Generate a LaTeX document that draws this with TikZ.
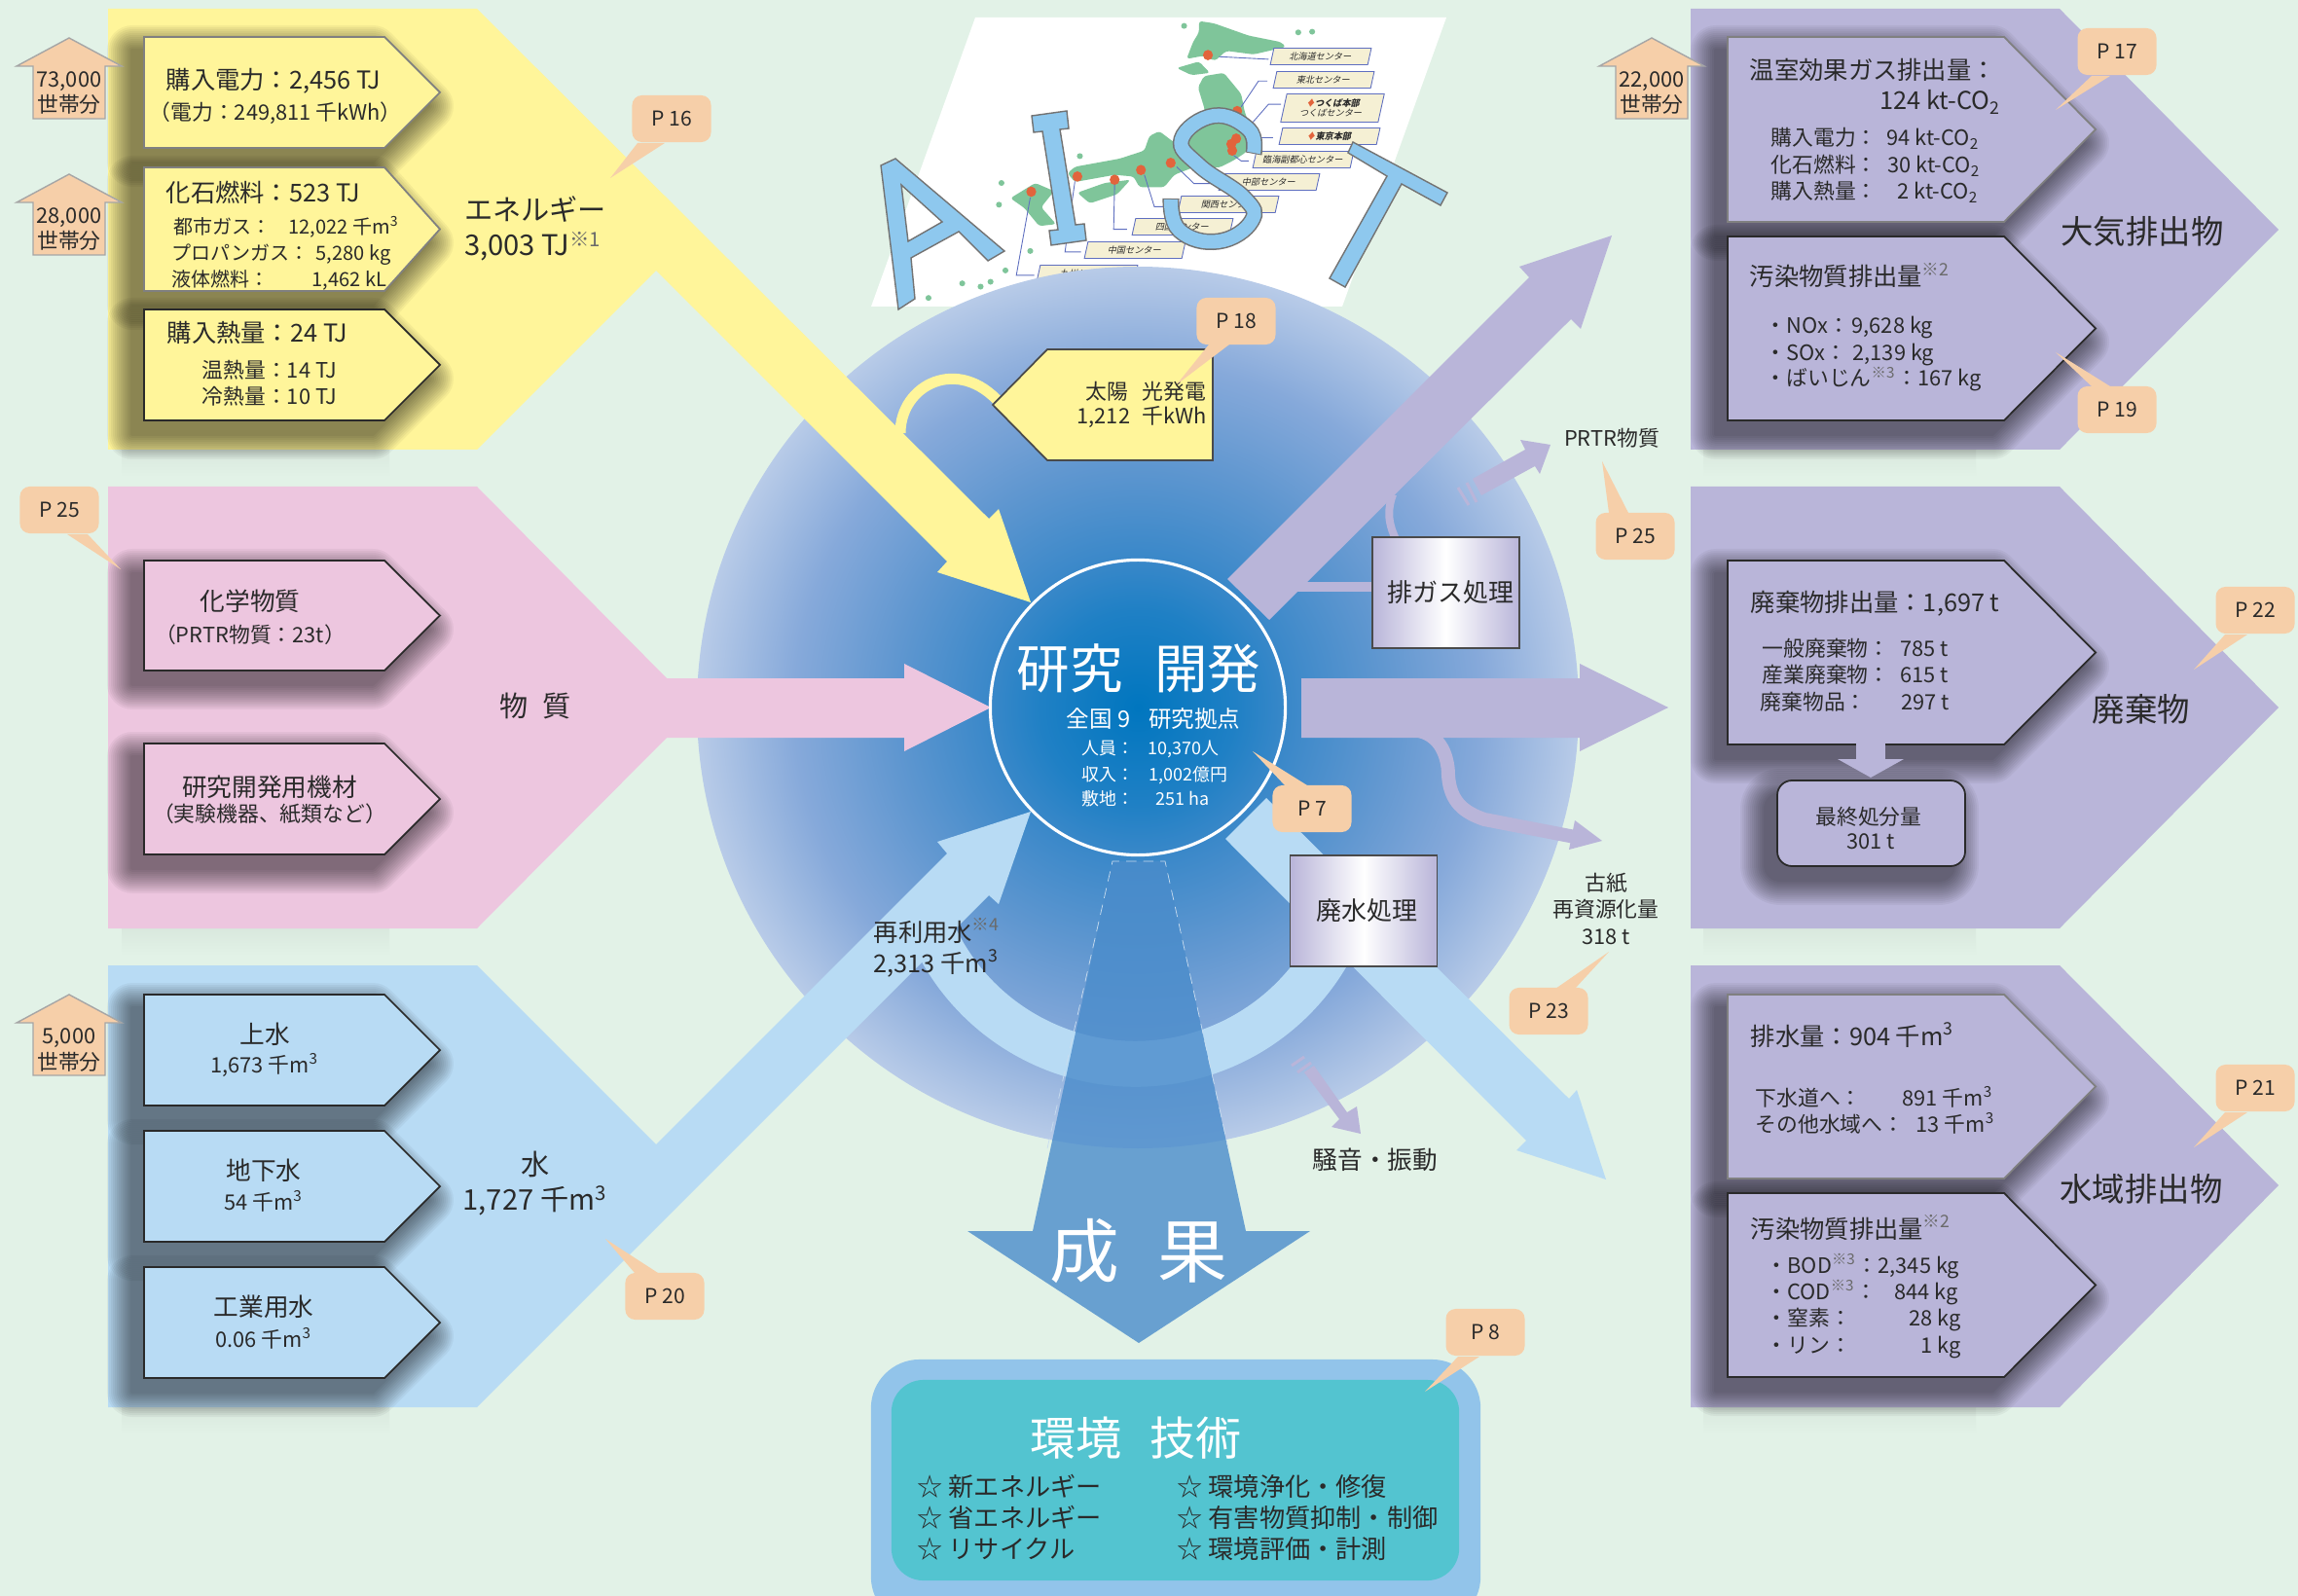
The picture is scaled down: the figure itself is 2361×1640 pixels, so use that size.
\documentclass[tikz,border=0pt]{standalone}
\usepackage{fontspec}
\setmainfont{Noto Sans CJK JP}

\definecolor{bgc}{HTML}{E2F2E7}
\definecolor{inkc}{HTML}{2A2A2A}
\definecolor{yellowc}{HTML}{FFF59A}
\definecolor{pinkc}{HTML}{EDC6DF}
\definecolor{waterc}{HTML}{B8DBF4}
\definecolor{airc}{HTML}{B9B5D9}
\definecolor{tagc}{HTML}{F6CFA9}
\definecolor{lettc}{HTML}{8EC8EE}
\definecolor{fruitc}{HTML}{4A8CCB}
\definecolor{tealc}{HTML}{53C4D0}
\definecolor{rimc}{HTML}{92C4EA}
\definecolor{landc}{HTML}{7FC59A}
\definecolor{leadc}{HTML}{5F6FC0}
\definecolor{dotc}{HTML}{E2643C}
\definecolor{labelc}{HTML}{F5F0D4}
\definecolor{hubA}{HTML}{0076BF}
\definecolor{hubB}{HTML}{1F80C5}
\definecolor{hubC}{HTML}{3A88C9}
\definecolor{hubD}{HTML}{6097D0}
\definecolor{hubE}{HTML}{86A9DA}
\definecolor{hubF}{HTML}{B8CBE8}

\pgfdeclareradialshading{hubshade}{\pgfpointorigin}{
	color(0bp)=(hubA);
	color(5.5bp)=(hubB);
	color(8.5bp)=(hubC);
	color(14bp)=(hubD);
	color(19.5bp)=(hubE);
	color(25bp)=(hubF);
	color(50bp)=(hubF)}

\newcommand{\mthree}{\textsuperscript{3}}
\newcommand{\cotwo}{CO\textsubscript{2}}
\newcommand{\fnote}[1]{\textsuperscript{\color{inkc!70}※#1}}
% a five sided label: left, shoulder, tip, top, bottom
\newcommand{\tagshape}[5]{(#1,#4) -- (#2,#4) -- (#3,{(#4+#5)/2}) -- (#2,#5) -- (#1,#5) -- cycle}
% soft dark patch behind a label
\newcommand{\softshadow}[1]{%
	\begin{scope}[shift={(-12,14)}]
		\foreach \w in {4,8,...,52} {
			\begin{scope}[transparency group, opacity=0.045]
				\filldraw[black, line width=\w*0.01cm, line join=round] #1;
			\end{scope}
		}
	\end{scope}}

\begin{document}
\begin{tikzpicture}[
	x=0.01cm, y=-0.01cm,
	every node/.style={inner sep=0pt, text=inkc},
	undershade/.style={top color=bgc!96!black, bottom color=bgc},
	tagbox/.style={line width=0.5pt},
	house/.style={fill=tagc, draw=gray!70, line width=0.4pt},
	housetext/.style={font=\fontsize{6.2}{7.4}\selectfont, align=center},
	pagetag/.style={fill=tagc, rounded corners=0.1cm, minimum width=0.81cm, minimum height=0.48cm, font=\fontsize{6}{7}\selectfont},
	head/.style={font=\fontsize{7.2}{8}\selectfont, anchor=base west},
	sub/.style={font=\fontsize{6.2}{7}\selectfont, anchor=base west},
	fuel/.style={font=\fontsize{5.7}{7}\selectfont, anchor=base west},
	headc/.style={font=\fontsize{7.3}{8}\selectfont, anchor=base},
	subc/.style={font=\fontsize{6.2}{7}\selectfont, anchor=base},
	title/.style={font=\fontsize{8.3}{9}\selectfont, anchor=base},
	bigtitle/.style={font=\fontsize{9.5}{10}\selectfont, anchor=base},
	hubtext/.style={font=\fontsize{5.1}{6}\selectfont, anchor=base west, text=white},
	treatbox/.style={draw=inkc!85, line width=0.5pt, left color=airc, right color=airc, middle color=white,
		minimum width=1.51cm, minimum height=1.14cm, font=\fontsize{7.4}{8}\selectfont},
	maplabel/.style={draw=leadc, fill=labelc, line width=0.25pt, transform shape, xslant=0.22,
		minimum width=1cm, minimum height=0.17cm, font=\fontsize{2.6}{3}\selectfont},
	letter/.style={fill=lettc, draw=gray!90!black, line width=0.4pt},
	envlist/.style={font=\fontsize{7.45}{8}\selectfont, anchor=base west},
]
	\clip (0,0) rectangle (2361,1640);
	\fill[bgc] (0,0) rectangle (2361,1640);

	% map of the sites
	\fill[white] (1002,18) -- (1486,18) -- (1379,315) -- (895,315) -- cycle;
	\begin{scope}[shift={(880,0)}, x=0.0051cm, y=-0.00333cm]
		\fill[landc, rounded corners=0.03cm] (690,65) -- (720,72) -- (790,110) -- (855,130) -- (865,145) -- (800,168) -- (745,157) -- (722,188) -- (700,172) -- (665,182) -- (678,130) -- (690,100) -- cycle;
		\fill[landc, rounded corners=0.03cm] (645,210) -- (690,190) -- (712,225) -- (675,232) -- cycle;
		\fill[landc, rounded corners=0.03cm] (700,235) -- (740,225) -- (775,290) -- (782,345) -- (795,400) -- (785,470) -- (760,495) -- (730,518) -- (690,510) -- (640,540) -- (620,578) -- (570,578) -- (558,545) -- (520,540) -- (440,562) -- (425,535) -- (440,515) -- (530,490) -- (580,465) -- (590,420) -- (610,405) -- (640,440) -- (690,400) -- (702,340) -- (688,270) -- cycle;
		\fill[landc, rounded corners=0.03cm] (445,595) -- (500,565) -- (552,555) -- (525,600) -- (470,628) -- cycle;
		\fill[landc, rounded corners=0.03cm] (310,612) -- (360,565) -- (398,590) -- (372,640) -- (402,692) -- (368,698) -- (338,642) -- cycle;
		\foreach \lx/\ly in {890/100, 918/98, 660/80, 292/565, 450/482, 287/632, 350/775, 300/835, 270/870, 250/885, 213/875, 145/920}
			\fill[landc] (\lx,\ly) circle[x radius=6, y radius=9];
		\foreach \dx/\dy in {708/170, 767/343, 765/428, 755/445, 757/465, 633/503, 573/525, 520/555, 445/545, 352/592}
			\fill[dotc] (\dx,\dy) circle[x radius=10, y radius=16];
		\draw[leadc, line width=0.25pt] (730,175) -- (830,183);
		\draw[leadc, line width=0.25pt] (775,330) -- (810,250) -- (828,250);
		\draw[leadc, line width=0.25pt] (797,380) -- (830,322) -- (855,322);
		\draw[leadc, line width=0.25pt] (800,425) -- (840,425);
		\draw[leadc, line width=0.25pt] (760,480) -- (775,497) -- (790,497);
		\draw[leadc, line width=0.25pt] (645,515) -- (680,567) -- (730,567);
		\draw[leadc, line width=0.25pt] (580,540) -- (600,638) -- (650,638);
		\draw[leadc, line width=0.25pt] (520,570) -- (518,708) -- (545,708);
		\draw[leadc, line width=0.25pt] (440,560) -- (420,778) -- (452,778);
		\draw[leadc, line width=0.25pt] (350,610) -- (322,850) -- (358,850);
	\end{scope}
	\foreach \n/\x/\y/\txt in {hokkaido/1357/58/北海道センター, tohoku/1360/82/東北センター, nagoya/1304/187/中部センター, kansai/1262/210/関西センター, shikoku/1215/233/四国センター, chugoku/1166/257/中国センター, kyushu/1117/281/九州センター, rinkai/1339/164/臨海副都心センター}
		\node[maplabel] (\n) at (\x,\y) {\txt};
	\node[maplabel, minimum height=0.29cm, align=center] (tsukuba) at (1369,111) {{\color{dotc}♦}\textbf{つくば本部}\\つくばセンター};
	\node[maplabel] (tokyo) at (1366,140) {{\color{dotc}♦}\textbf{東京本部}};

	% large disc behind the flows
	\path[shading=hubshade] (1169,727) circle[radius=453];

	% letters over the map
	\path[letter, even odd rule] (920,163) -- (905,170) -- (923,318) -- (940,307) -- (936,265) -- (985,238) -- (1015,268) -- (1032,258) -- cycle
		(926,190) -- (968,228) -- (933,248) -- cycle;
	\path[letter] (1060,119) -- (1096,114) -- (1098,132) -- (1089,133) -- (1105,231) -- (1114,230) -- (1116,247) -- (1080,252) -- (1078,237) -- (1087,236) -- (1071,135) -- (1062,136) -- cycle;
	\path[letter] (1390,146) -- (1487,198) -- (1480,211) -- (1440,189) -- (1382,295) -- (1366,286) -- (1425,181) -- (1385,157) -- cycle;
	\draw[gray!90!black, line width=0.17cm] plot[smooth, tension=0.75] coordinates {(1288,158) (1283,133) (1247,119) (1214,143) (1232,170) (1278,203) (1286,227) (1252,248) (1212,237) (1203,204)};
	\draw[lettc, line width=0.14cm] plot[smooth, tension=0.75] coordinates {(1288,157) (1283,133) (1247,119) (1214,143) (1232,170) (1278,203) (1286,227) (1252,248) (1212,237) (1203,205)};

	% ring of reused water
	\draw[waterc, line width=0.47cm] (1364.5,979) arc[start angle=30, end angle=158, radius=228.5];

	% solar panel loop
	\draw[yellowc, line width=0.11cm] (925,445) .. controls (925,395) and (985,365) .. (1028,415);

	% faint shade under the flows
	\foreach \ax/\bx/\yb in {125/400/462, 125/400/954, 125/400/1446, 1750/2030/462, 1750/2030/954, 1750/2030/1446}
		\shade[undershade] (\ax,\yb) rectangle (\bx,{\yb+28});

	% input flows
	\fill[yellowc] (111,9) -- (490,9) -- (1016,533) -- (1026,523) -- (1059,619) -- (963,588) -- (973,577) -- (674,278) -- (490,462) -- (111,462) -- cycle;
	\fill[pinkc] (111,500) -- (490,500) -- (685,697) -- (929,697) -- (929,682) -- (1018,727) -- (929,772) -- (929,758) -- (685,758) -- (490,954) -- (111,954) -- cycle;
	\fill[waterc] (111,992) -- (490,992) -- (674,1176) -- (973,877) -- (963,865) -- (1059,834) -- (1026,929) -- (1016,920) -- (490,1446) -- (111,1446) -- cycle;

	% output flows
	\fill[airc] (1737,9) -- (2116,9) -- (2341,236) -- (2116,462) -- (1737,462) -- cycle;
	\fill[airc] (1737,500) -- (2116,500) -- (2341,727) -- (2116,954) -- (1737,954) -- cycle;
	\fill[airc] (1737,992) -- (2116,992) -- (2341,1218) -- (2116,1446) -- (1737,1446) -- cycle;
	\fill[airc] (1261,595) -- (1571,285) -- (1561,274) -- (1656,242) -- (1624,338) -- (1614,328) -- (1304,637) -- cycle;
	\fill[airc] (1337,697) -- (1623,697) -- (1623,682) -- (1714,727) -- (1623,772) -- (1623,758) -- (1337,758) -- cycle;
	\fill[waterc] (1259,862) -- (1301,820) -- (1612,1129) -- (1620,1120) -- (1650,1212) -- (1558,1182) -- (1568,1172) -- cycle;

	% thin side streams
	\fill[airc] (1332,598) rectangle (1412,608);
	\draw[airc, line width=0.08cm] (1434,554) .. controls (1425,535) and (1426,522) .. (1431,508);
	\draw[airc, line width=0.14cm] (1448,750) .. controls (1478,750) and (1488,775) .. (1488,797) .. controls (1490,825) and (1505,835) .. (1525,842) -- (1618,860);
	\fill[airc] (1618,843) -- (1646,864) -- (1612,873) -- cycle;
	% to PRTR
	\fill[airc] (1513,492) -- (1567,462) -- (1562,452) -- (1593,457) -- (1582,487) -- (1577,479) -- (1522,509) -- cycle;
	\draw[airc, line width=0.03cm] (1507,496) -- (1517,516);
	\draw[airc, line width=0.03cm] (1498,501) -- (1509,519);
	% to noise label
	\fill[airc] (1340,1102) -- (1350,1095) -- (1384,1143) -- (1394,1137) -- (1398,1165) -- (1368,1158) -- (1376,1150) -- cycle;
	\draw[airc, line width=0.03cm] (1333,1102) -- (1347,1092);
	\draw[airc, line width=0.03cm] (1327,1095) -- (1340,1086);

	% results arrow
	\fill[fruitc, fill opacity=0.8] (1143,885) -- (1197,885) -- (1280,1265) -- (1346,1265) -- (1170,1380) -- (994,1265) -- (1061,1265) -- cycle;
	\draw[white!70!fruitc, line width=0.2pt, densely dashed] (1076,1180) -- (1143,885) -- (1197,885) -- (1262,1180);

	% hub outline
	\node[draw=white, line width=0.9pt, circle, minimum size=3.03cm] (hub) at (1169,727) {};

	% solar panel
	\draw[fill=yellowc, draw=inkc!85, line width=0.5pt] (1020,416) -- (1076,359) -- (1246,359) -- (1246,473) -- (1076,473) -- cycle;
	\node[sub] (solara) at (1115,411) {太陽};
	\node[sub] (solarb) at (1173,411) {光発電};
	\node[sub] (solarc) at (1106,436) {1,212};
	\node[sub] (solard) at (1173,436) {千kWh};

	% boxes inside the left flows
	\foreach \c/\bd/\yt/\yb in {yellowc/gray/38/152, yellowc/gray/172/299, yellowc/inkc/318/432, pinkc/inkc/576/689, pinkc/inkc/764/878, waterc/inkc/1022/1136, waterc/inkc/1162/1276, waterc/inkc/1302/1416} {
		\softshadow{\tagshape{148}{395}{452}{\yt}{\yb}}
		\draw[tagbox, draw=\bd, fill=\c] \tagshape{148}{395}{452}{\yt}{\yb};
	}
	% boxes inside the right flows
	\foreach \bd/\yt/\yb in {gray/38/228, inkc/243/432, inkc/576/765, gray/1022/1211, inkc/1226/1415} {
		\softshadow{\tagshape{1775}{2059}{2153}{\yt}{\yb}}
		\draw[tagbox, draw=\bd, fill=airc] \tagshape{1775}{2059}{2153}{\yt}{\yb};
	}
	\begin{scope}[rounded corners=0.15cm]
		\softshadow{(1826,802) rectangle (2019,890)}
		\draw[tagbox, draw=inkc, fill=airc] (1826,802) rectangle (2019,890);
	\end{scope}
	\fill[airc] (1907,764) rectangle (1937,780);
	\fill[airc] (1888,780) -- (1956,780) -- (1922,799) -- cycle;

	% household arrows
	\foreach \n/\hx/\hy/\txt in {houseA/71/39/{73,000\\世帯分}, houseB/71/179/{28,000\\世帯分}, houseC/71/1022/{5,000\\世帯分}, houseD/1697/39/{22,000\\世帯分}} {
		\draw[house] (\hx,\hy) -- ({\hx+54},{\hy+29}) -- ({\hx+37},{\hy+29}) -- ({\hx+37},{\hy+83}) -- ({\hx-37},{\hy+83}) -- ({\hx-37},{\hy+29}) -- ({\hx-54},{\hy+29}) -- cycle;
		\node[housetext] (\n) at (\hx,{\hy+57}) {\txt};
	}

	% treatment boxes
	\node[treatbox] (gasbox) at (1485.5,609) {\hspace*{0.35em}排ガス処理};
	\node[treatbox] (drainbox) at (1401,936) {\hspace*{0.25em}\raisebox{-0.6pt}{廃水処理}};

	% left texts
	\foreach \n/\x/\y/\txt in {elecA/170/92/{購入電力：2,456 TJ}, fuelA/170/208/{化石燃料：523 TJ}, heatA/171/352/{購入熱量：24 TJ}}
		\node[head] (\n) at (\x,\y) {\txt};
	\foreach \n/\x/\y/\txt in {elecB/153/124/{（電力：249,811 千kWh）}, heatB/207/389/{温熱量：14 TJ}, heatC/207/416/{冷熱量：10 TJ}}
		\node[sub] (\n) at (\x,\y) {\txt};
	\foreach \n/\x/\y/\txt in {fuelB/178/241/{都市ガス：}, fuelBv/296/241/{12,022 千m\mthree}, fuelC/176/268/{プロパンガス：}, fuelCv/324/268/{5,280 kg}, fuelD/176/295/{液体燃料：}, fuelDv/320/295/{1,462 kL}}
		\node[fuel] (\n) at (\x,\y) {\txt};
	\foreach \n/\x/\y/\txt in {chemA/257/628/{化学物質}, matA/277/818/{研究開発用機材}, supA/272/1072/{上水}, supB/271/1212/{地下水}, supC/271/1352/{工業用水}}
		\node[headc] (\n) at (\x,\y) {\txt};
	\foreach \n/\x/\y/\txt in {chemB/257/660/{（PRTR物質：23t）}, matB/277/844/{（実験機器、紙類など）}, supAv/272/1102/{1,673 千m\mthree}, supBv/271/1243/{54 千m\mthree}, supCv/271/1384/{0.06 千m\mthree}}
		\node[subc] (\n) at (\x,\y) {\txt};
	\foreach \n/\x/\y/\txt in {energyA/550/227/{エネルギー}, energyB/548/263/{3,003 TJ\fnote{1}}, matter/550/736/{物\hspace{0.5em}質}, waterA/550/1207/{水}, waterB/550/1243/{1,727 千m\mthree}}
		\node[title] (\n) at (\x,\y) {\txt};

	% right texts
	\foreach \n/\x/\y/\txt in {ghgA/1797/82/{温室効果ガス排出量：}, ghgB/1931/113/{124 kt-\cotwo}, pollA/1797/294/{汚染物質排出量\fnote{2}}, wasteA/1798/629/{廃棄物排出量：1,697 t}, drainA/1798/1074/{排水量：904 千m\mthree}, pollB/1798/1272/{汚染物質排出量\fnote{2}}}
		\node[head] (\n) at (\x,\y) {\txt};
	\foreach \n/\x/\y/\txt in {ghgC/1819/150/{購入電力：}, ghgCv/1938/150/{94 kt-\cotwo}, ghgD/1819/178/{化石燃料：}, ghgDv/1939/178/{30 kt-\cotwo}, ghgE/1819/205/{購入熱量：}, ghgEv/1949/205/{2 kt-\cotwo},
		noxA/1813/343/{・NOx：}, noxB/1902/343/{9,628 kg}, soxA/1813/371/{・SOx：}, soxB/1903/371/{2,139 kg}, dustA/1813/397/{・ばいじん\fnote{3}：167 kg},
		wasteB/1810/675/{一般廃棄物：}, wasteBv/1952/675/{785 t}, wasteC/1810/702/{産業廃棄物：}, wasteCv/1952/702/{615 t}, wasteD/1808/729/{廃棄物品：}, wasteDv/1953/729/{297 t},
		drainB/1803/1136/{下水道へ：}, drainBv/1954/1136/{891 千m\mthree}, drainC/1803/1163/{その他水域へ：}, drainCv/1968/1163/{13 千m\mthree},
		bodA/1814/1308/{・BOD\fnote{3}：}, bodB/1929/1308/{2,345 kg}, codA/1814/1335/{・COD\fnote{3}：}, codB/1946/1335/{844 kg}, nitA/1814/1362/{・窒素：}, nitB/1961/1362/{28 kg}, phosA/1814/1390/{・リン：}, phosB/1973/1390/{1 kg}}
		\node[sub] (\n) at (\x,\y) {\txt};
	\foreach \n/\x/\y/\txt in {airT/2201/251/大気排出物, wasteT/2200/741/廃棄物, drainT/2200/1234/水域排出物}
		\node[bigtitle] (\n) at (\x,\y) {\txt};
	\node[subc] (finalA) at (1920,847) {最終処分量};
	\node[subc] (finalB) at (1922,872) {301 t};

	% centre and free labels
	\node[font=\fontsize{15.5}{16}\selectfont, anchor=base, text=white] (hubT) at (1170,708) {研究\hspace{0.6em}開発};
	\node[font=\fontsize{6.7}{7}\selectfont, anchor=base, text=white] (hubS) at (1185,747) {全国 9\hspace{0.8em}研究拠点};
	\foreach \n/\x/\y/\txt in {staffA/1111/775/{人員：}, staffB/1179/775/{10,370人}, incomeA/1111/802/{収入：}, incomeB/1180/802/{1,002億円}, landA/1111/827/{敷地：}, landB/1187/827/{251 ha}}
		\node[hubtext] (\n) at (\x,\y) {\txt};
	\node[subc] (prtr) at (1656,459) {PRTR物質};
	\foreach \n/\y/\txt in {paperA/915/古紙, paperB/942/再資源化量, paperC/970/318 t}
		\node[subc] (\n) at (1650,\y) {\txt};
	\node[head] (reuseA) at (897,967) {再利用水\fnote{4}};
	\node[head] (reuseB) at (897,999) {2,313 千m\mthree};
	\node[headc] (noise) at (1413,1201) {騒音・振動};
	\node[font=\fontsize{20.4}{21}\selectfont, anchor=base, text=white] (fruit) at (1170,1312) {成\hspace{0.55em}果};

	% environmental technology panel
	\node[fill=rimc, rounded corners=0.5cm, minimum width=6.26cm, minimum height=2.73cm] (envrim) at (1208,1533.5) {};
	\node[fill=tealc, rounded corners=0.33cm, minimum width=5.83cm, minimum height=2.06cm] (envcore) at (1207.5,1521) {};
	\node[font=\fontsize{13.4}{14}\selectfont, anchor=base, text=white] (envT) at (1167,1495) {環境\hspace{0.6em}技術};
	\foreach \n/\x/\y/\txt in {techA/942/1537/☆ 新エネルギー, techB/942/1569/☆ 省エネルギー, techC/942/1601/☆ リサイクル, techD/1209/1537/☆ 環境浄化・修復, techE/1209/1569/☆ 有害物質抑制・制御, techF/1209/1601/☆ 環境評価・計測}
		\node[envlist] (\n) at (\x,\y) {\txt};

	% page tags
	\foreach \n/\cx/\cy/\txt/\tx/\ty/\ax/\bx/\by in {
		tagP/690/122/P 16/627/183/655/683/147,
		tagQ/1270/330/P 18/1209/395/1242/1263/354,
		tagR/2175/53/P 17/2112/113/2149/2168/78,
		tagS/2175/421/P 19/2112/362/2149/2168/397,
		tagT/1680/551/P 25/1646/474/1653/1673/527,
		tagU/61/524/P 25/124/585/69/90/549,
		tagV/2317/627/P 22/2254/688/2286/2309/652,
		tagW/1348/831/P 7/1287/772/1320/1343/807,
		tagX/1591/1039/P 23/1653/978/1598/1618/1016,
		tagY/2317/1118/P 21/2254/1179/2286/2309/1143,
		tagZ/683/1332/P 20/622/1273/652/676/1308,
		tagO/1526/1369/P 8/1464/1430/1498/1520/1394} {
		\fill[tagc] (\ax,\by) -- (\tx,\ty) -- (\bx,\by) -- cycle;
		\node[pagetag] (\n) at (\cx,\cy) {\txt};
	}
\end{tikzpicture}
\end{document}
